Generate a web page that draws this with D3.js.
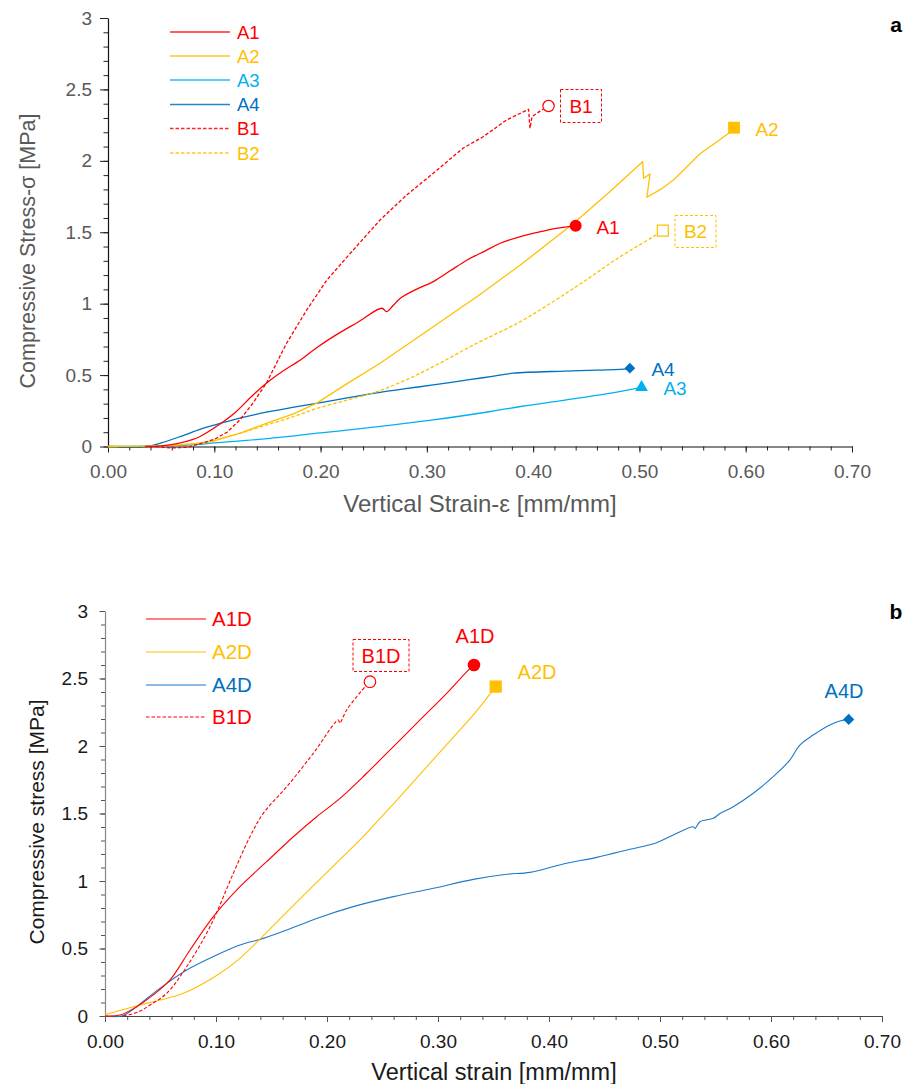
<!DOCTYPE html>
<html>
<head>
<meta charset="utf-8">
<script src="https://cdn.jsdelivr.net/npm/d3@7"></script>
<style>
  html, body { margin: 0; padding: 0; background: #fff; }
  svg { display: block; }
  text { font-family: "Liberation Sans", Arial, Helvetica, sans-serif; }
</style>
</head>
<body>
<svg id="chart" width="916" height="1084"></svg>
<script>
// ---------------- DATA (strain [mm/mm], stress [MPa]) ----------------
// Panel a
const seriesA1 = [[0.035,0],[0.05,0.005],[0.065,0.02],[0.08,0.05],[0.0866,0.07],[0.104,0.15],[0.12,0.24],[0.135,0.35],[0.149,0.443],[0.165,0.53],[0.181,0.606],[0.196,0.69],[0.212,0.769],[0.235,0.87],[0.2577,0.968],[0.262,0.944],[0.268,0.985],[0.275,1.038],[0.29,1.10],[0.306,1.154],[0.322,1.23],[0.338,1.306],[0.355,1.37],[0.369,1.423],[0.388,1.469],[0.407,1.504],[0.42,1.525],[0.44,1.545]];
const seriesA2 = [[0.0,0],[0.03,0.002],[0.06,0.008],[0.0866,0.022],[0.10,0.04],[0.125,0.095],[0.149,0.162],[0.175,0.23],[0.196,0.302],[0.225,0.44],[0.256,0.583],[0.28,0.705],[0.306,0.839],[0.347,1.049],[0.388,1.271],[0.435,1.544],[0.47,1.77],[0.503,1.994],[0.504,1.878],[0.510,1.908],[0.507,1.745],[0.52,1.80],[0.532,1.866],[0.545,1.96],[0.557,2.05],[0.573,2.134],[0.584,2.193],[0.589,2.232]];
const seriesA3 = [[0.0,0],[0.04,0.002],[0.07,0.008],[0.0866,0.015],[0.10,0.025],[0.15,0.055],[0.20,0.095],[0.25,0.135],[0.306,0.186],[0.36,0.245],[0.388,0.28],[0.43,0.325],[0.47,0.37],[0.502,0.414]];
const seriesA4 = [[0.0,0],[0.036,0],[0.05,0.025],[0.07,0.075],[0.0866,0.12],[0.10,0.15],[0.125,0.2],[0.149,0.24],[0.175,0.275],[0.196,0.302],[0.225,0.34],[0.25,0.372],[0.28,0.405],[0.306,0.431],[0.34,0.468],[0.36,0.489],[0.3815,0.513],[0.43,0.528],[0.46,0.535],[0.488,0.543],[0.491,0.548]];
const seriesB1 = [[0.045,0],[0.06,-0.01],[0.075,-0.005],[0.0866,0.02],[0.10,0.05],[0.112,0.1],[0.124,0.186],[0.136,0.3],[0.149,0.443],[0.168,0.723],[0.187,0.956],[0.206,1.166],[0.228,1.353],[0.256,1.586],[0.281,1.761],[0.306,1.913],[0.334,2.088],[0.353,2.169],[0.375,2.286],[0.3957,2.361],[0.397,2.228],[0.399,2.31],[0.408,2.356],[0.4145,2.384]];
const seriesB2 = [[0.0,0],[0.05,0.005],[0.0866,0.025],[0.10,0.045],[0.125,0.095],[0.149,0.15],[0.175,0.21],[0.196,0.265],[0.225,0.325],[0.253,0.384],[0.28,0.465],[0.306,0.559],[0.347,0.723],[0.388,0.874],[0.42,1.02],[0.45,1.166],[0.48,1.32],[0.513,1.469],[0.522,1.511]];

// Panel b
const seriesA1D = [[0,0],[0.0135,0.007],[0.0285,0.069],[0.0435,0.156],[0.0586,0.267],[0.0766,0.489],[0.0976,0.736],[0.1216,0.958],[0.1456,1.143],[0.1697,1.328],[0.1907,1.476],[0.2117,1.612],[0.2357,1.798],[0.2598,1.995],[0.2838,2.193],[0.3078,2.39],[0.3288,2.575],[0.3324,2.60]];
const seriesA2D = [[0,0.01],[0.0255,0.069],[0.0495,0.118],[0.0706,0.168],[0.1006,0.3],[0.1216,0.427],[0.1396,0.57],[0.1637,0.77],[0.1877,0.965],[0.2117,1.16],[0.2297,1.304],[0.2598,1.57],[0.2838,1.79],[0.3078,2.01],[0.3318,2.23],[0.3483,2.40],[0.352,2.44]];
const seriesA4D = [[0,0],[0.015,0],[0.0285,0.069],[0.0435,0.168],[0.0556,0.242],[0.0736,0.341],[0.1006,0.452],[0.1216,0.526],[0.1426,0.575],[0.1637,0.637],[0.1907,0.723],[0.2237,0.81],[0.2598,0.884],[0.2958,0.946],[0.3318,1.012],[0.3619,1.05],[0.3829,1.064],[0.4129,1.126],[0.443,1.175],[0.473,1.235],[0.497,1.284],[0.512,1.341],[0.530,1.402],[0.5315,1.39],[0.536,1.439],[0.548,1.464],[0.554,1.5],[0.566,1.55],[0.584,1.65],[0.602,1.773],[0.617,1.896],[0.626,2.007],[0.638,2.081],[0.653,2.156],[0.662,2.185],[0.670,2.197]];
const seriesB1D = [[0.0165,0],[0.03,0.03],[0.0405,0.081],[0.0556,0.168],[0.0736,0.365],[0.0946,0.661],[0.1156,1.057],[0.1306,1.328],[0.1426,1.501],[0.1637,1.698],[0.1877,1.946],[0.2102,2.193],[0.2115,2.17],[0.2177,2.267],[0.2357,2.452],[0.2387,2.476]];

// Ticks
const xTickValues = [0, 0.1, 0.2, 0.3, 0.4, 0.5, 0.6, 0.7];
const xTickLabels = ["0.00","0.10","0.20","0.30","0.40","0.50","0.60","0.70"];
const yTickValues = [0, 0.5, 1, 1.5, 2, 2.5, 3];
const yTickLabels = ["0","0.5","1","1.5","2","2.5","3"];
const xMinorValues = d3.range(0, 36).map(i => i * 0.02);
const yMinorValues = d3.range(0, 31).map(i => i * 0.1);

// Series names / legends
const legendA = ["A1","A2","A3","A4","B1","B2"];
const legendB = ["A1D","A2D","A4D","B1D"];

// ---------------- DRAWING ----------------
const RED = "#FF0000", GOLD = "#FFC000", CYAN = "#00B0F0", BLUE = "#0070C0";
const svg = d3.select("#chart");

function drawAxes(g, x, y, o) {
  const xa = g.append("g").attr("transform", `translate(0,${y(0)})`);
  xa.call(d3.axisBottom(x).tickValues(xMinorValues).tickSize(o.xMinor).tickFormat(""))
    .call(s => s.select(".domain").remove());
  xa.selectAll("line").attr("stroke", o.tickColor);
  const xb = g.append("g").attr("transform", `translate(0,${y(0)})`);
  xb.call(d3.axisBottom(x).tickValues(xTickValues).tickSize(o.xMajor).tickSizeOuter(0)
      .tickPadding(o.xPad).tickFormat((d, i) => xTickLabels[i]));
  xb.select(".domain").attr("stroke", o.xAxisColor).attr("stroke-width", 1.2);
  xb.selectAll("line").attr("stroke", o.tickColor);
  xb.selectAll("text").attr("fill", o.labelColor).style("font-size", o.tickFont + "px")
    .attr("font-family", "Liberation Sans, Arial, sans-serif");
  const ya = g.append("g").attr("transform", `translate(${x(0)},0)`);
  ya.call(d3.axisLeft(y).tickValues(yMinorValues).tickSize(o.yMinor).tickFormat(""))
    .call(s => s.select(".domain").remove());
  ya.selectAll("line").attr("stroke", o.tickColor);
  const yb = g.append("g").attr("transform", `translate(${x(0)},0)`);
  yb.call(d3.axisLeft(y).tickValues(yTickValues).tickSize(o.yMajor).tickSizeOuter(0)
      .tickPadding(o.yPad).tickFormat((d, i) => yTickLabels[i]));
  yb.select(".domain").attr("stroke", o.yAxisColor).attr("stroke-width", 1.2);
  yb.selectAll("line").attr("stroke", o.tickColor);
  yb.selectAll("text").attr("fill", o.labelColor).style("font-size", o.tickFont + "px")
    .attr("font-family", "Liberation Sans, Arial, sans-serif");
}

function drawSeries(g, x, y, data, color, dash, width, sharp) {
  const curve = sharp ? d3.curveLinear : d3.curveCatmullRom.alpha(0.5);
  const line = d3.line().x(d => x(d[0])).y(d => y(d[1])).curve(curve);
  g.append("path").datum(data).attr("d", line)
    .attr("fill", "none").attr("stroke", color).attr("stroke-width", width)
    .attr("stroke-linejoin", "round")
    .attr("stroke-dasharray", dash ? "3.5,2" : null);
}

function drawMarker(g, x, y, data, type, size, color, open, rotate) {
  const p = data[data.length - 1];
  g.append("path")
    .attr("d", d3.symbol().type(type).size(size)())
    .attr("transform", `translate(${x(p[0])},${y(p[1])}) rotate(${rotate || 0})`)
    .attr("fill", open ? "#fff" : color)
    .attr("stroke", color).attr("stroke-width", open ? 1.2 : 0);
}

function label(g, px, py, txt, color, size, boxed, boxW, boxH) {
  if (boxed) {
    g.append("rect").attr("x", px - boxW / 2).attr("y", py - boxH / 2)
      .attr("width", boxW).attr("height", boxH)
      .attr("fill", "none").attr("stroke", color).attr("stroke-width", 1)
      .attr("stroke-dasharray", "3,2");
  }
  g.append("text").attr("x", px).attr("y", py).attr("dy", "0.36em")
    .attr("text-anchor", "middle").attr("fill", color)
    .style("font-size", size + "px").text(txt);
}

// ===== Panel a =====
{
  const g = svg.append("g");
  const x = d3.scaleLinear().domain([0, 0.7]).range([108, 852]);
  const y = d3.scaleLinear().domain([0, 3]).range([446.5, 18]);
  drawAxes(g, x, y, { xMinor: 4, xMajor: 6, yMinor: 4.5, yMajor: 8, xPad: 12.5, yPad: 8,
    tickColor: "#222", xAxisColor: "#111", yAxisColor: "#111", labelColor: "#595959", tickFont: 19 });

  const seriesList = [
    [seriesA3, CYAN, false, false], [seriesA4, BLUE, false, false], [seriesB2, GOLD, true, false],
    [seriesA2, GOLD, false, true], [seriesB1, RED, true, true], [seriesA1, RED, false, false]
  ];
  seriesList.forEach(s => drawSeries(g, x, y, s[0], s[1], s[2], 1.3, s[3]));

  drawMarker(g, x, y, seriesA1, d3.symbolCircle, 113, RED, false);
  drawMarker(g, x, y, seriesA2, d3.symbolSquare, 140, GOLD, false);
  drawMarker(g, x, y, seriesA3, d3.symbolTriangle, 70, CYAN, false);
  drawMarker(g, x, y, seriesA4, d3.symbolSquare, 58, BLUE, false, 45);
  drawMarker(g, x, y, seriesB1, d3.symbolCircle, 100, RED, true);
  drawMarker(g, x, y, seriesB2, d3.symbolSquare, 120, GOLD, true);

  label(g, 608, 227, "A1", RED, 19);
  label(g, 767, 129, "A2", GOLD, 19);
  label(g, 675, 388, "A3", CYAN, 19);
  label(g, 663, 369, "A4", BLUE, 19);
  label(g, 581, 106, "B1", RED, 19, true, 41, 33);
  label(g, 695.5, 231.5, "B2", GOLD, 19, true, 41, 32);

  const colorsA = [RED, GOLD, CYAN, BLUE, RED, GOLD];
  const dashA = [false, false, false, false, true, true];
  const rowsA = [32, 56, 80, 104.5, 128.5, 153];
  legendA.forEach((name, i) => {
    g.append("line").attr("x1", 170).attr("x2", 230).attr("y1", rowsA[i]).attr("y2", rowsA[i])
      .attr("stroke", colorsA[i]).attr("stroke-width", 1.5)
      .attr("stroke-dasharray", dashA[i] ? "3.5,2" : null).attr("opacity", 0.85);
    g.append("text").attr("x", 237).attr("y", rowsA[i]).attr("dy", "0.36em")
      .attr("fill", colorsA[i]).style("font-size", "18.5px").text(name);
  });

  g.append("text").attr("transform", "translate(35,251) rotate(-90)")
    .attr("text-anchor", "middle").attr("fill", "#595959").style("font-size", "21.5px")
    .text("Compressive Stress-σ [MPa]");
  g.append("text").attr("x", 480).attr("y", 512).attr("text-anchor", "middle")
    .attr("fill", "#595959").style("font-size", "24px").text("Vertical Strain-ε [mm/mm]");
  g.append("text").attr("x", 896).attr("y", 32).attr("text-anchor", "middle")
    .attr("fill", "#000").style("font-size", "21px").style("font-weight", "bold").text("a");
}

// ===== Panel b =====
{
  const g = svg.append("g");
  const x = d3.scaleLinear().domain([0, 0.7]).range([105, 882]);
  const y = d3.scaleLinear().domain([0, 3]).range([1016, 611]);
  drawAxes(g, x, y, { xMinor: 4, xMajor: 6, yMinor: 4, yMajor: 5.5, xPad: 13, yPad: 11.5,
    tickColor: "#555", xAxisColor: "#444", yAxisColor: "#888", labelColor: "#1a1a1a", tickFont: 19 });

  drawSeries(g, x, y, seriesA4D, "#1F78C8", false, 1.1);
  drawSeries(g, x, y, seriesA2D, GOLD, false, 1.1);
  drawSeries(g, x, y, seriesB1D, RED, true, 1.1);
  drawSeries(g, x, y, seriesA1D, RED, false, 1.1);

  drawMarker(g, x, y, seriesA1D, d3.symbolCircle, 125, RED, false);
  drawMarker(g, x, y, seriesA2D, d3.symbolSquare, 150, GOLD, false);
  drawMarker(g, x, y, seriesA4D, d3.symbolSquare, 62, BLUE, false, 45);
  drawMarker(g, x, y, seriesB1D, d3.symbolCircle, 105, RED, true);

  label(g, 475, 636, "A1D", RED, 20);
  label(g, 537, 672, "A2D", GOLD, 20);
  label(g, 844, 691, "A4D", BLUE, 20);
  label(g, 381, 655.5, "B1D", RED, 20, true, 56, 32);

  const colorsB = [RED, GOLD, "#1F78C8", RED];
  const colorsBText = [RED, GOLD, BLUE, RED];
  const dashB = [false, false, false, true];
  const rowsB = [619, 652, 685, 717];
  legendB.forEach((name, i) => {
    g.append("line").attr("x1", 146).attr("x2", 206).attr("y1", rowsB[i]).attr("y2", rowsB[i])
      .attr("stroke", colorsB[i]).attr("stroke-width", 1.1)
      .attr("stroke-dasharray", dashB[i] ? "3.5,2" : null);
    g.append("text").attr("x", 212).attr("y", rowsB[i]).attr("dy", "0.36em")
      .attr("fill", colorsBText[i]).style("font-size", "20.5px").text(name);
  });

  g.append("text").attr("transform", "translate(44,822) rotate(-90)")
    .attr("text-anchor", "middle").attr("fill", "#1a1a1a").style("font-size", "21px")
    .text("Compressive stress [MPa]");
  g.append("text").attr("x", 494).attr("y", 1080).attr("text-anchor", "middle")
    .attr("fill", "#1a1a1a").style("font-size", "23.5px").text("Vertical strain [mm/mm]");
  g.append("text").attr("x", 896).attr("y", 619).attr("text-anchor", "middle")
    .attr("fill", "#000").style("font-size", "21px").style("font-weight", "bold").text("b");
}
</script>
</body>
</html>
